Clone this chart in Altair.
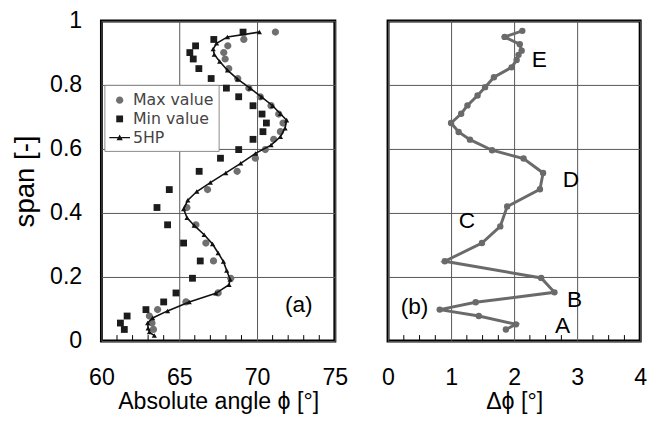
import altair as alt
import pandas as pd

# ---- measured blade angle along the span (panel a) ----
span = [0.036, 0.056, 0.078, 0.098, 0.122, 0.150, 0.196, 0.250, 0.306, 0.363,
        0.417, 0.473, 0.530, 0.571, 0.598, 0.630, 0.654, 0.681, 0.709, 0.735,
        0.763, 0.790, 0.820, 0.851, 0.881, 0.901, 0.922, 0.942, 0.965]
max_angle = [63.34, 63.25, 63.08, 63.61, 65.43, 67.50, 68.31, 67.20, 66.71, 66.07,
             65.49, 66.82, 68.72, 69.89, 70.53, 71.07, 71.50, 71.67, 71.39, 70.90,
             70.21, 69.47, 68.76, 68.18, 67.95, 67.86, 68.12, 69.15, 71.18]
min_angle = [61.47, 61.22, 61.65, 62.86, 64.00, 64.79, 65.85, 66.35, 65.28, 64.25,
             63.57, 64.36, 66.28, 67.65, 68.82, 69.74, 70.38, 70.60, 70.32, 69.74,
             68.82, 68.03, 67.05, 66.26, 65.90, 65.68, 66.05, 67.22, 69.10]

# ---- 5HP design curve ----
hp_span = [0.017, 0.028, 0.040, 0.056, 0.072, 0.094, 0.122, 0.149, 0.176, 0.192,
           0.220, 0.248, 0.275, 0.303, 0.332, 0.361, 0.385, 0.412, 0.440, 0.467,
           0.495, 0.525, 0.555, 0.586, 0.612, 0.638, 0.665, 0.690, 0.710, 0.735,
           0.762, 0.790, 0.818, 0.846, 0.873, 0.895, 0.912, 0.930, 0.950, 0.965]
hp_angle = [63.40, 63.08, 63.00, 62.97, 63.29, 64.25, 65.64, 67.35, 68.20, 68.27,
            68.05, 67.84, 67.50, 67.14, 66.60, 65.96, 65.50, 65.28, 65.55, 66.13,
            67.00, 67.99, 68.95, 69.90, 70.90, 71.50, 71.80, 71.90, 71.50, 71.00,
            70.30, 69.55, 68.75, 68.10, 67.60, 67.25, 67.18, 67.40, 68.10, 70.15]

# ---- spread between max and min (panel b) ----
delta_span = [0.036, 0.052, 0.078, 0.098, 0.121, 0.152, 0.197, 0.249, 0.306, 0.358,
              0.420, 0.474, 0.525, 0.570, 0.596, 0.629, 0.653, 0.681, 0.710, 0.736,
              0.767, 0.793, 0.824, 0.855, 0.878, 0.894, 0.907, 0.927, 0.950, 0.969]
delta_phi = [1.87, 2.03, 1.44, 0.82, 1.39, 2.64, 2.43, 0.90, 1.49, 1.78,
             1.89, 2.41, 2.46, 2.15, 1.65, 1.30, 1.12, 1.00, 1.16, 1.26,
             1.42, 1.54, 1.68, 1.96, 2.04, 2.07, 2.12, 2.09, 1.85, 2.13]

# ---- axis ticks ----
span_ticks = [0, 0.2, 0.4, 0.6, 0.8, 1]
left_ticks = [60, 65, 70, 75]
right_ticks = [0, 1, 2, 3, 4]
left_minor = [61, 62, 63, 64, 66, 67, 68, 69, 71, 72, 73, 74]
right_minor = [0.25, 0.5, 0.75, 1.25, 1.5, 1.75, 2.25, 2.5, 2.75, 3.25, 3.5, 3.75]

# ---- annotations ----
left_note = ["(a)"]
left_note_x = [72.68]
left_note_y = [0.111]
right_note = ["A", "B", "C", "D", "E", "(b)"]
right_note_x = [2.77, 2.96, 1.25, 2.90, 2.40, 0.42]
right_note_y = [0.045, 0.128, 0.376, 0.503, 0.879, 0.107]

SERIES = ["Max value", "Min value", "5HP"]

LEFT_W, RIGHT_W, H = 237, 256, 325
FONT = "Liberation Sans"

# symbol outlines in the unit box [-1, 1]
CIRCLE = "M0.35,0 A0.35,0.35 0 1,1 -0.35,0 A0.35,0.35 0 1,1 0.35,0 Z"
SQUARE = "M-0.33,-0.33 L0.33,-0.33 L0.33,0.33 L-0.33,0.33 Z"
LINE_TRI = "M-1,-0.07 L1,-0.07 L1,0.07 L-1,0.07 Z M-0.3,0.25 L0,-0.3 L0.3,0.25 Z"

meas = pd.concat([
    pd.DataFrame({"span": span, "angle": max_angle, "series": "Max value"}),
    pd.DataFrame({"span": span, "angle": min_angle, "series": "Min value"}),
])
hp = pd.DataFrame({"span": hp_span, "angle": hp_angle})
delta = pd.DataFrame({"span": delta_span, "dphi": delta_phi})

y_scale = alt.Scale(domain=[0, 1], nice=False, zero=False)
x_left_scale = alt.Scale(domain=[60, 75], nice=False, zero=False)
x_right_scale = alt.Scale(domain=[0, 4], nice=False, zero=False)

y_left_axis = alt.Axis(values=span_ticks, format="~g", title="span [-]",
                       labelPadding=20, titlePadding=10, titleFontSize=28)
y_right_axis = alt.Axis(values=span_ticks, labels=False, title=None)
x_left_axis = alt.Axis(values=left_ticks, title="Absolute angle \u03d5 [\u00b0]",
                       labelFlush=False)
x_right_axis = alt.Axis(values=right_ticks, title="\u0394\u03d5 [\u00b0]",
                        labelFlush=False)

legend = alt.Legend(
    orient="none", legendX=3, legendY=65, title=None,
    fillColor="white", strokeColor="#8a8a8a", padding=5,
    labelFont="DejaVu Sans", labelFontSize=16, labelColor="#444444",
    symbolSize=441, symbolStrokeWidth=0, labelOffset=3, rowPadding=0,
)

# ---- panel (a) ----
minor_a = alt.Chart(pd.DataFrame({"x": left_minor})).mark_rule(
    color="black", strokeWidth=1
).encode(x=alt.X("x:Q", scale=x_left_scale, axis=x_left_axis),
         y=alt.value(H), y2=alt.value(H - 6))

points_a = alt.Chart(meas).mark_point(filled=True, size=441, opacity=1).encode(
    x=alt.X("angle:Q", scale=x_left_scale, axis=x_left_axis),
    y=alt.Y("span:Q", scale=y_scale, axis=y_left_axis),
    color=alt.Color("series:N", scale=alt.Scale(domain=SERIES,
                    range=["#707070", "#1c1c1c", "#111111"]), legend=legend),
    shape=alt.Shape("series:N", scale=alt.Scale(domain=SERIES,
                    range=[CIRCLE, SQUARE, LINE_TRI]), legend=legend),
)

hp_line = alt.Chart(hp).mark_line(color="#111111", strokeWidth=1.6).encode(
    x=alt.X("angle:Q", scale=x_left_scale, axis=x_left_axis),
    y=alt.Y("span:Q", scale=y_scale, axis=y_left_axis),
    order=alt.Order("span:Q"),
)
hp_marks = alt.Chart(hp).mark_point(shape="triangle-up", filled=True, size=28,
                                     color="#111111", opacity=1).encode(
    x=alt.X("angle:Q", scale=x_left_scale, axis=x_left_axis),
    y=alt.Y("span:Q", scale=y_scale, axis=y_left_axis),
)

note_a = alt.Chart(pd.DataFrame({"t": left_note, "x": left_note_x, "y": left_note_y})).mark_text(
    font=FONT, fontSize=23, color="black"
).encode(x=alt.X("x:Q", scale=x_left_scale, axis=x_left_axis),
         y=alt.Y("y:Q", scale=y_scale, axis=y_left_axis), text="t:N")

panel_a = alt.layer(minor_a, points_a, hp_line, hp_marks, note_a).properties(
    width=LEFT_W, height=H)

# ---- panel (b) ----
minor_b = alt.Chart(pd.DataFrame({"x": right_minor})).mark_rule(
    color="black", strokeWidth=1
).encode(x=alt.X("x:Q", scale=x_right_scale, axis=x_right_axis),
         y=alt.value(H), y2=alt.value(H - 6))

delta_line = alt.Chart(delta).mark_line(
    color="#6a6a6a", strokeWidth=3,
    point=alt.OverlayMarkDef(filled=True, size=42, color="#6a6a6a", opacity=1),
).encode(
    x=alt.X("dphi:Q", scale=x_right_scale, axis=x_right_axis),
    y=alt.Y("span:Q", scale=y_scale, axis=y_right_axis),
    order=alt.Order("span:Q"),
)

note_b = alt.Chart(pd.DataFrame({"t": right_note, "x": right_note_x, "y": right_note_y})).mark_text(
    font=FONT, fontSize=23, color="black"
).encode(x=alt.X("x:Q", scale=x_right_scale, axis=x_right_axis),
         y=alt.Y("y:Q", scale=y_scale, axis=y_right_axis), text="t:N")

panel_b = alt.layer(minor_b, delta_line, note_b).properties(width=RIGHT_W, height=H)

chart = alt.hconcat(panel_a, panel_b, spacing=30).properties(
    padding={"left": 10, "top": 4, "right": 2, "bottom": 2}
).configure_view(
    stroke="black", strokeWidth=3
).configure_axis(
    labelFont=FONT, labelFontSize=23.5, labelColor="black",
    titleFont=FONT, titleFontSize=23.5, titleFontWeight="normal", titleColor="black",
    grid=True, gridColor="#555555", gridWidth=1, gridOpacity=1,
    ticks=False, domain=False,
).configure_axisX(
    labelPadding=25, titlePadding=1,
)

chart.save("out.html", embed_options={"renderer": "svg", "actions": False})
